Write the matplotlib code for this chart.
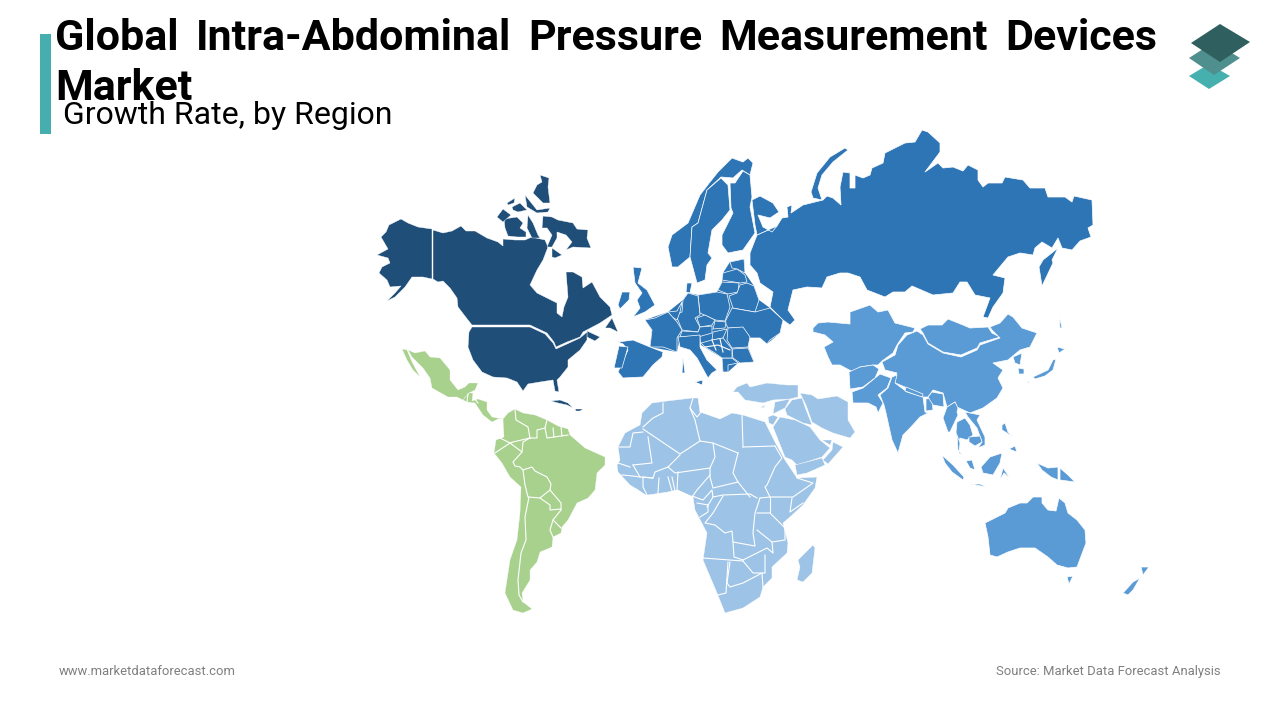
import matplotlib
matplotlib.use('Agg')
import matplotlib.pyplot as plt

plt.rcParams['font.family'] = ['Roboto', 'DejaVu Sans']

title_line1 = ['Global', 'Intra-Abdominal', 'Pressure', 'Measurement', 'Devices']
title_line2 = 'Market'
subtitle = 'Growth Rate, by Region'
footer_left = 'www.marketdataforecast.com'
footer_right = 'Source: Market Data Forecast Analysis'

NAVY = '#1F4E79'
BLUE = '#2E75B6'
MID = '#5B9BD5'
LIGHT = '#9DC3E6'
GREEN = '#A9D18E'
TEAL = '#46AEAE'

# region outlines in image pixels
north_america = [
    # alaska
    [(377,255),(388,249),(381,237),(386,232),(389,225),(401,219),(408,223),(418,227),(432,229),(432,279),(423,277),(412,277),(405,287),(395,297),(387,301),(395,293),(401,286),(390,287),(387,280),(379,273),(382,267),(390,263),(388,258)],
    # canada
    [(433,230),(443,233),(452,231),(461,226),(466,231),(475,231),(487,238),(498,242),(503,246),(503,239),(515,240),(525,240),(532,237),(545,240),(548,247),(543,260),(537,270),(530,285),(537,293),(557,303),(557,313),(562,317),(564,307),(568,297),(566,272),(573,272),(582,277),(583,288),(592,282),(600,297),(610,307),(612,315),(600,323),(583,332),(580,337),(567,342),(556,347),(554,342),(547,333),(530,325),(472,325),(468,320),(458,307),(457,298),(450,288),(443,281),(438,282),(433,279)],
    [(587,331),(600,337),(595,341),(587,337)],
    [(605,328),(612,318),(618,332),(610,328)],
    # usa
    [(472,327),(530,327),(545,334),(553,343),(556,349),(567,344),(580,338),(587,332),(587,340),(580,350),(568,360),(568,367),(560,377),(557,380),(559,392),(555,391),(553,380),(540,382),(528,384),(523,391),(517,382),(507,378),(493,377),(482,372),(473,360),(468,347),(469,332)],
    # arctic islands
    [(540,175),(549,178),(548,187),(550,203),(543,203),(533,193),(537,185),(542,182)],
    [(543,216),(552,217),(558,220),(573,223),(577,229),(588,230),(587,238),(591,248),(573,247),(566,250),(572,242),(566,235),(557,232),(557,238),(552,247),(547,247),(552,235),(547,228),(542,228)],
    [(504,219),(517,217),(523,223),(520,228),(526,232),(526,237),(517,237),(508,236),(505,228)],
    [(497,217),(503,209),(511,215),(503,222)],
    [(528,215),(533,223),(538,235),(540,238),(532,238),(527,228)],
    [(507,203),(515,198),(514,203),(508,205)],
    [(512,207),(520,203),(527,210),(518,212),(513,210)],
    [(525,195),(537,210),(550,208),(548,212),(537,213),(527,207)],
    [(552,248),(562,255),(555,258),(552,257)],
    # caribbean
    [(551,401),(560,400),(568,403),(573,408),(567,405),(558,403)],
    [(575,409),(583,409),(580,411),(576,411)],
]

latin_america = [
    [(402,349),(407,350),(412,362),(420,377),(413,370),(407,360)],
    [(408,350),(415,353),(425,351),(430,357),(440,358),(450,370),(450,380),(458,390),(465,387),(469,383),(478,383),(475,390),(469,393),(463,400),(457,397),(448,397),(432,388),(430,378),(423,368),(418,363),(412,357)],
    [(463,400),(469,393),(473,393),(472,401),(478,399),(487,402),(487,410),(492,417),(497,418),(503,419),(498,419),(492,422),(483,415),(475,403),(467,402)],
    [(503,419),(508,413),(515,409),(523,413),(535,415),(547,420),(558,426),(568,429),(570,435),(585,448),(605,457),(605,465),(597,473),(595,490),(588,498),(577,503),(568,520),(562,527),(561,533),(553,537),(552,547),(540,552),(537,562),(530,570),(530,580),(522,593),(523,602),(532,609),(523,613),(513,610),(505,593),(510,560),(517,540),(520,513),(521,487),(510,477),(502,463),(494,453),(496,440),(504,437)],
]

latin_borders = [
    [(515,409),(516,420),(528,427),(530,438)],
    [(530,438),(513,442),(510,443),(500,438)],
    [(510,443),(495,453)],
    [(510,443),(522,452),(523,442),(530,438)],
    [(522,452),(513,462),(515,466),(520,467),(523,470),(532,467),(535,471),(547,477),(551,484),(550,490),(561,503),(561,510),(553,520),(550,530),(553,537)],
    [(523,470),(525,485),(528,497),(540,498),(550,490)],
    [(529,497),(525,517),(526,540),(521,553),(518,580),(519,595),(523,602)],
    [(540,498),(550,505),(550,510),(561,509)],
    [(553,520),(561,528)],
    [(547,420),(545,428),(547,438),(568,435)],
    [(530,438),(537,438),(537,430),(545,428)],
    [(553,428),(554,437)],
    [(561,427),(562,436)],
    [(468,394),(467,402)],
    [(474,398),(478,403)],
]

# land under the european countries so traced seams stay blue
europe_land = [(645,320),(668,312),(683,300),(688,293),(698,295),(717,292),(722,282),(723,273),(730,262),(744,259),(745,273),(754,286),(759,300),(770,308),(783,320),(780,333),(767,344),(760,338),(750,337),(748,347),(754,362),(738,363),(728,372),(723,372),(722,358),(701,345),(700,335),(680,337),(677,352),(650,347),(652,330)]

europe_russia = [
    # russia
    [(757,235),(777,226),(782,218),(788,217),(787,207),(792,205),(791,213),(803,205),(823,200),(827,196),(833,198),(841,205),(840,187),(843,172),(850,173),(850,188),(855,188),(855,175),(863,178),(870,175),(872,168),(883,163),(885,153),(905,143),(915,142),(922,130),(928,132),(940,143),(940,152),(925,172),(938,163),(943,168),(953,167),(963,171),(968,165),(978,170),(978,180),(983,187),(988,183),(1002,183),(1005,177),(1023,180),(1030,188),(1045,188),(1048,197),(1065,197),(1072,202),(1074,196),(1092,200),(1093,225),(1088,228),(1091,237),(1080,241),(1072,250),(1062,248),(1058,238),(1052,248),(1042,242),(1035,248),(1033,255),(1020,253),(1008,257),(993,275),(1005,278),(1003,293),(993,307),(988,318),(983,317),(990,298),(975,295),(967,282),(960,282),(953,293),(933,295),(912,286),(905,292),(893,292),(885,297),(867,290),(860,277),(848,273),(840,273),(827,277),(822,288),(807,287),(793,290),(790,302),(788,310),(795,320),(790,325),(783,320),(770,307),(773,292),(760,283),(757,273),(750,265),(750,253)],
    [(811,192),(817,173),(830,157),(845,148),(848,150),(833,162),(822,175),(818,188),(822,200),(813,198)],
    [(1058,248),(1052,260),(1053,263),(1042,286),(1039,267),(1043,260)],
    [(752,200),(760,196),(773,203),(779,212),(770,218),(758,215),(763,227),(772,232),(777,226),(757,235),(755,225)],
    # scandinavia
    [(668,247),(672,235),(688,223),(700,195),(710,182),(718,172),(732,158),(743,162),(748,158),(753,163),(750,175),(742,170),(733,178),(721,177),(707,190),(698,223),(692,227),(690,257),(678,267),(672,267)],
    [(721,178),(728,185),(730,210),(722,220),(712,230),(708,253),(712,258),(707,265),(705,280),(697,283),(690,257),(692,227),(698,223),(707,190)],
    [(730,183),(735,183),(743,171),(750,175),(752,197),(750,207),(755,233),(743,250),(728,253),(722,245),(722,235),(733,213),(731,208)],
    # baltics and eastern europe
    [(730,262),(744,259),(745,273),(737,269),(732,268)],
    [(723,273),(737,269),(745,275),(747,282),(740,283),(722,280)],
    [(722,282),(739,283),(738,292),(728,294),(718,290)],
    [(740,285),(747,283),(754,286),(759,300),(755,312),(733,308),(729,296),(737,293)],
    [(698,295),(717,292),(727,294),(730,307),(725,321),(715,320),(700,313)],
    [(732,308),(755,312),(770,308),(783,320),(780,333),(770,340),(767,344),(760,338),(748,338),(743,328),(728,328),(725,322)],
    # western europe
    [(683,300),(688,293),(698,296),(700,315),(695,318),(700,327),(698,332),(682,330),(678,320),(675,315),(682,312)],
    [(686,292),(687,283),(692,283),(690,293)],
    [(668,312),(677,311),(682,302),(680,312),(677,320),(672,317)],
    [(645,320),(655,318),(668,312),(677,322),(682,330),(677,338),(677,352),(663,347),(650,347),(652,330)],
    [(618,342),(633,340),(650,347),(663,352),(662,357),(653,365),(643,377),(623,378),(618,372),(628,350),(623,344)],
    [(619,346),(628,347),(622,368),(614,368)],
    [(633,267),(642,268),(638,283),(647,290),(655,305),(645,312),(633,317),(640,308),(637,300),(642,293),(635,283)],
    [(622,292),(630,292),(629,300),(620,309),(618,305)],
    # central europe and balkans
    [(697,318),(705,315),(715,320),(712,325),(700,327)],
    [(715,321),(726,322),(725,328),(713,329)],
    [(682,331),(698,332),(700,327),(712,326),(712,333),(698,337),(680,337)],
    [(713,332),(727,329),(723,338),(712,340)],
    [(728,328),(743,327),(750,337),(748,347),(732,348),(727,340)],
    [(678,337),(700,335),(700,347),(707,360),(717,370),(712,373),(708,378),(697,358),(690,350),(680,347)],
    [(683,358),(685,373),(682,373)],
    [(695,382),(703,380),(702,385)],
    [(732,349),(748,348),(754,362),(740,363),(733,358)],
    [(722,358),(732,358),(738,363),(728,365),(728,372),(723,372)],
    [(701,343),(712,340),(723,338),(732,349),(732,358),(722,358),(715,353),(705,347)],
]

europe_borders = [
    [(712,340),(716,350)],
    [(720,339),(723,352)],
    [(705,347),(718,345),(730,350)],
]

asia_pacific = [
    # central asia, mongolia, china
    [(813,328),(818,323),(828,322),(850,324),(850,312),(870,305),(878,312),(888,310),(895,323),(915,328),(913,332),(905,333),(897,345),(893,353),(882,361),(878,365),(873,365),(860,367),(853,372),(840,365),(832,365),(828,357),(824,347),(833,342),(825,335),(813,332)],
    [(920,329),(928,325),(942,325),(948,319),(963,325),(970,328),(988,327),(992,333),(1000,337),(980,343),(977,348),(961,355),(943,352),(928,343),(923,333)],
    [(917,331),(923,335),(928,344),(943,353),(961,357),(977,350),(980,345),(1000,338),(992,330),(990,327),(1000,323),(1008,314),(1013,317),(1022,328),(1037,333),(1030,347),(1020,350),(1008,360),(993,363),(1003,370),(998,378),(1003,388),(997,398),(983,408),(970,413),(957,407),(955,402),(947,407),(943,393),(933,390),(928,397),(917,397),(905,387),(893,382),(897,373),(885,370),(882,362),(895,355),(898,345),(907,335)],
    # korea and japan
    [(1013,357),(1022,353),(1020,365),(1015,363)],
    [(1018,368),(1024,369),(1024,374),(1019,374)],
    [(1033,377),(1048,370),(1053,360),(1056,359),(1053,370),(1045,376),(1035,379)],
    [(1057,347),(1065,349),(1059,353)],
    [(1059,315),(1062,328),(1060,328)],
    [(1028,381),(1030,383),(1028,383)],
    # south asia
    [(849,372),(860,367),(873,365),(879,369),(875,378),(863,387),(850,389)],
    [(852,392),(863,388),(880,374),(891,378),(887,388),(878,395),(883,403),(878,413),(876,407),(868,403),(853,403)],
    [(892,377),(897,375),(895,383),(907,392),(923,397),(925,412),(928,413),(920,417),(910,428),(903,435),(898,453),(892,440),(886,413),(884,405),(880,395),(888,388)],
    [(906,387),(923,394),(922,397),(905,391)],
    [(926,399),(932,398),(933,410),(926,411)],
    [(932,392),(943,394),(944,407),(933,405),(928,397)],
    # south east asia
    [(947,407),(955,402),(958,408),(957,412),(958,415),(950,432),(948,432),(943,418)],
    [(957,422),(965,418),(970,425),(973,435),(967,440),(960,438),(958,445),(956,432)],
    [(965,412),(980,415),(977,420),(985,437),(985,445),(978,448),(982,442),(977,428),(968,417)],
    [(969,437),(980,436),(982,442),(975,446),(969,442)],
    [(957,435),(960,443),(959,453),(963,455),(958,450)],
    [(942,455),(953,465),(964,477),(963,480),(952,472),(945,463)],
    [(981,467),(990,457),(1002,453),(1000,463),(993,475),(983,473)],
    [(966,461),(972,460),(975,470),(970,468)],
    [(970,484),(980,484),(987,487)],
    [(1000,480),(1003,468),(1010,478),(1004,473)],
    [(1002,425),(1005,423),(1008,432),(1013,437),(1007,433),(1002,430)],
    [(1009,449),(1015,446),(1017,452)],
    [(1037,463),(1048,468),(1058,467),(1058,480),(1051,477),(1042,470)],
    [(1060,468),(1068,475),(1075,482),(1060,480)],
    # australia and new zealand
    [(985,523),(1005,513),(1008,508),(1020,503),(1027,503),(1033,497),(1042,497),(1042,503),(1048,510),(1056,511),(1059,498),(1065,503),(1068,513),(1077,520),(1085,530),(1086,543),(1077,567),(1068,568),(1057,565),(1048,557),(1035,548),(1020,548),(1008,552),(997,557),(990,555),(988,537)],
    [(1067,577),(1073,576),(1069,584)],
    [(1141,567),(1149,567),(1143,575)],
    [(1123,593),(1133,582),(1140,578),(1133,590),(1128,595)],
]

africa_mideast = [
    # africa
    [(618,447),(625,433),(640,425),(642,413),(652,403),(667,401),(692,398),(698,398),(700,412),(720,419),(732,413),(743,415),(765,422),(775,442),(785,460),(797,478),(817,477),(815,488),(803,505),(790,517),(783,523),(788,543),(787,553),(772,567),(772,578),(763,587),(760,597),(743,608),(725,613),(717,593),(703,560),(707,533),(695,510),(693,497),(677,490),(668,492),(648,495),(645,495),(630,485),(618,472),(617,465),(620,460)],
    [(798,560),(813,545),(815,548),(812,573),(803,582),(797,580),(800,567)],
    # middle east
    [(733,392),(737,387),(747,383),(750,387),(767,383),(787,385),(798,385),(798,397),(790,399),(773,400),(763,403),(745,400),(738,392)],
    [(761,407),(766,405),(763,408)],
    [(775,402),(790,399),(785,408),(773,414)],
    [(792,400),(802,398),(805,407),(812,425),(803,423),(787,415),(785,409)],
    [(800,393),(812,395),(818,399),(837,396),(848,402),(848,420),(855,432),(850,438),(833,433),(822,428),(812,422),(806,405)],
    [(773,427),(780,417),(795,420),(810,427),(820,440),(830,448),(822,457),(797,465),(792,460),(785,457)],
    [(768,417),(773,415),(778,417),(773,425),(769,423)],
    [(795,465),(822,458),(825,465),(807,473),(797,475)],
    [(823,460),(832,450),(833,442),(843,447),(828,464)],
    [(822,440),(832,440),(830,445)],
]

africa_borders = [
    [(619,447),(630,447),(633,433),(643,432)],
    [(643,427),(653,418),(663,413),(663,403)],
    [(643,429),(680,454),(700,441),(695,420),(690,408),(693,398)],
    [(690,408),(697,417),(702,411)],
    [(700,441),(713,443),(738,453)],
    [(742,415),(743,447)],
    [(743,447),(775,446)],
    [(648,437),(652,463),(633,465)],
    [(633,465),(640,477),(653,478),(655,472),(668,467),(680,455)],
    [(668,467),(675,473),(710,468),(715,457),(713,443)],
    [(738,453),(733,473),(738,482),(713,488),(710,477),(710,468)],
    [(775,446),(782,458),(775,467),(767,485),(765,487),(770,497)],
    [(738,482),(750,497)],
    [(678,472),(677,490),(692,497),(697,490),(710,475)],
    [(692,496),(703,500),(712,490),(713,497),(707,507)],
    [(713,497),(723,495),(750,494),(757,498)],
    [(770,497),(793,497),(813,483),(797,478)],
    [(792,498),(790,512),(803,503)],
    [(760,498),(770,497)],
    [(723,496),(713,513),(705,523),(715,525),(725,533),(732,531),(733,542),(755,546),(753,533),(755,513),(760,498)],
    [(697,503),(708,505),(708,512),(700,517)],
    [(757,513),(770,513),(785,528),(785,540),(772,542),(757,530)],
    [(770,498),(770,513)],
    [(703,558),(743,561)],
    [(733,542),(734,557),(743,560),(753,555),(767,548),(773,553),(772,542)],
    [(765,555),(765,573),(762,573),(763,587)],
    [(728,562),(726,593),(718,595)],
    [(730,562),(727,583),(730,587),(743,583),(762,573),(753,573),(743,561)],
    [(653,478),(643,477),(643,487),(647,495)],
    [(659,478),(658,493)],
    [(668,477),(672,491)],
    [(672,477),(675,491)],
    [(622,475),(633,476),(640,477)],
    [(628,485),(636,489),(645,495)],
    [(618,463),(630,467)],
]

# logo layers, bottom first
logo_layers = [
    ([(1189,76),(1209,64),(1230,76),(1209,89)], '#46B0AE'),
    ([(1189,58),(1214,42),(1240,58),(1214,75)], '#4F8F8D'),
    ([(1191,43),(1220,24),(1250,42),(1220,62)], '#2F5F5E'),
]

fig = plt.figure(figsize=(12.8, 7.2), dpi=100)
ax = fig.add_axes([0, 0, 1, 1])
ax.set_xlim(0, 1280)
ax.set_ylim(720, 0)
ax.axis('off')


def draw_shapes(shapes, color, edge=0.5):
    for shape in shapes:
        xs, ys = zip(*shape)
        ax.fill(xs, ys, facecolor=color, edgecolor='white', linewidth=edge, joinstyle='round')


def draw_borders(lines, width=0.8):
    for line in lines:
        xs, ys = zip(*line)
        ax.plot(xs, ys, color='white', linewidth=width, solid_joinstyle='round')


draw_shapes(north_america, NAVY, 0.3)
draw_shapes(latin_america, GREEN, 0.2)
draw_borders(latin_borders)
xs, ys = zip(*europe_land)
ax.fill(xs, ys, facecolor=BLUE, edgecolor='none')
draw_shapes(europe_russia, BLUE, 0.5)
draw_borders(europe_borders)
draw_shapes(asia_pacific, MID, 0.5)
draw_shapes(africa_mideast, LIGHT, 0.3)
draw_borders(africa_borders)

for shape, color in logo_layers:
    xs, ys = zip(*shape)
    ax.fill(xs, ys, facecolor=color, edgecolor='none')

ax.fill([40, 51, 51, 40], [34, 34, 134, 134], facecolor=TEAL, edgecolor='none')

# first title line is justified between x=55 and x=1157
fig.canvas.draw()
renderer = fig.canvas.get_renderer()
words = [ax.text(0, 50, w, fontsize=31, fontweight='bold', color='black', ha='left', va='baseline')
         for w in title_line1]
widths = [w.get_window_extent(renderer).width for w in words]
gap = (1157 - 55 - sum(widths)) / (len(words) - 1)
x = 55
for w, width in zip(words, widths):
    w.set_x(x)
    x += width + gap

ax.text(55, 100, title_line2, fontsize=31, fontweight='bold', color='black', ha='left', va='baseline')
ax.text(63, 124, subtitle, fontsize=23, color='black', ha='left', va='baseline')

ax.text(59, 675, footer_left, fontsize=9.4, color='#7F7F7F', ha='left', va='baseline')
ax.text(1221, 675, footer_right, fontsize=9.4, color='#7F7F7F', ha='right', va='baseline')

fig.savefig('out.png', dpi=100)
